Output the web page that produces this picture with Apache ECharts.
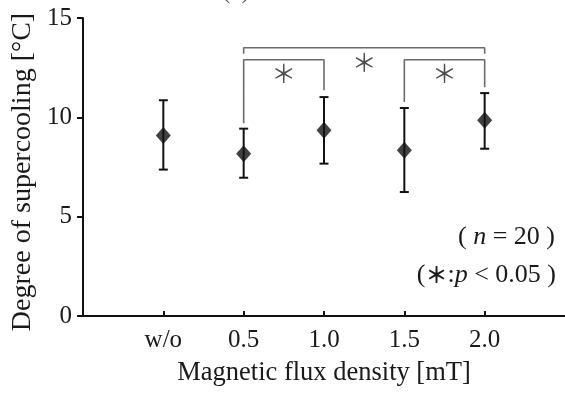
<!DOCTYPE html>
<html>
<head>
<meta charset="utf-8">
<script src="https://cdn.jsdelivr.net/npm/echarts@6/dist/echarts.min.js"></script>
<style>html,body{margin:0;padding:0;background:#fff}#c{width:565px;height:394px}</style>
</head>
<body>
<div id="c"></div>
<script>
// ---- data ----
const categories = ['w/o', '0.5', '1.0', '1.5', '2.0'];
const means = [9.09, 8.17, 9.35, 8.34, 9.85];
const upper = [10.86, 9.43, 11.02, 10.47, 11.22];
const lower = [7.37, 6.96, 7.67, 6.24, 8.42];
const yTicks = [0, 5, 10, 15];
// significance brackets: [category index (1-based), y]
const bracketAll = [[2, 13.2], [2, 13.5], [5, 13.5], [5, 13.2]];
const bracketLeft = [[2, 9.7], [2, 12.9], [3, 12.9], [3, 11.36]];
const bracketRight = [[4, 10.77], [4, 12.9], [5, 12.9], [5, 11.52]];
const starPositions = [[2.5, 12.2], [3.5, 12.77], [4.5, 12.2]];
const annotN = '( {i|n} = 20 )';
const annotP = '({s|＊}:{i|p} < 0.05 )';
const xName = 'Magnetic flux density [mT]';
const yName = 'Degree of supercooling [°C]';

const serif = '"Liberation Serif", "Times New Roman", serif';
const txt = '#1a1a1a';
const xs = categories.map((c, i) => i + 1);
const meanData = means.map((m, i) => [xs[i], m]);
const errData = xs.map((x, i) => [x, lower[i], upper[i]]);

const chart = echarts.init(document.getElementById('c'), null, {renderer: 'canvas'});
const bracketStyle = {color: '#6b6b6b', width: 1.6};
const richStyles = {
  i: {fontStyle: 'italic', fontFamily: serif, fontSize: 26, color: txt},
  s: {fontFamily: '"Noto Sans CJK JP", sans-serif', fontSize: 22, color: txt, fontWeight: 'bold'}
};
chart.setOption({
  animation: false,
  backgroundColor: '#fff',
  grid: {left: 83, right: 0, top: 18, bottom: 78, containLabel: false},
  xAxis: {
    type: 'value', min: 0, max: 6, interval: 1,
    name: xName, nameLocation: 'middle', nameGap: 44,
    nameTextStyle: {fontFamily: serif, fontSize: 26.5, color: txt},
    axisLine: {show: true, onZero: false, lineStyle: {color: '#111', width: 2}},
    axisTick: {show: true, inside: true, length: 5, customValues: xs, lineStyle: {color: '#111', width: 2}},
    axisLabel: {show: true, customValues: xs, margin: 12, fontFamily: serif, fontSize: 25, color: txt,
      formatter: v => categories[Math.round(v) - 1] || ''},
    splitLine: {show: false}
  },
  yAxis: {
    type: 'value', min: 0, max: 15, interval: 5,
    axisLine: {show: true, lineStyle: {color: '#111', width: 2}},
    axisTick: {show: true, inside: false, length: 6, customValues: yTicks, lineStyle: {color: '#111', width: 2}},
    axisLabel: {show: true, customValues: yTicks, margin: 11, fontFamily: serif, fontSize: 25, color: txt},
    splitLine: {show: false}
  },
  series: [
    {type: 'line', data: bracketAll, symbol: 'none', lineStyle: bracketStyle, silent: true, z: 1},
    {type: 'line', data: bracketLeft, symbol: 'none', lineStyle: bracketStyle, silent: true, z: 1},
    {type: 'line', data: bracketRight, symbol: 'none', lineStyle: bracketStyle, silent: true, z: 1},
    {
      type: 'custom', data: errData, z: 3,
      renderItem: function (params, api) {
        const x = api.value(0);
        const pLo = api.coord([x, api.value(1)]);
        const pHi = api.coord([x, api.value(2)]);
        const w = 4.5;
        const st = {stroke: '#111', lineWidth: 2};
        return {type: 'group', children: [
          {type: 'line', shape: {x1: pHi[0], y1: pHi[1], x2: pLo[0], y2: pLo[1]}, style: st},
          {type: 'line', shape: {x1: pHi[0] - w, y1: pHi[1], x2: pHi[0] + w, y2: pHi[1]}, style: st},
          {type: 'line', shape: {x1: pLo[0] - w, y1: pLo[1], x2: pLo[0] + w, y2: pLo[1]}, style: st}
        ]};
      }
    },
    {type: 'scatter', data: meanData, symbol: 'diamond', symbolSize: [15, 17],
      itemStyle: {color: '#111'}, z: 4},
    {type: 'scatter', data: starPositions, symbolSize: 1, itemStyle: {color: 'rgba(0,0,0,0)'}, z: 5,
      label: {show: true, position: 'inside', formatter: '＊', fontFamily: '"Noto Sans CJK JP", sans-serif',
        fontSize: 25, color: '#222'}}
  ],
  graphic: [
    {type: 'text', left: 222, top: -21, style: {text: '(a)', font: '25px ' + serif, fill: '#555'}},
    {type: 'text', x: 23, y: 172, rotation: Math.PI / 2,
      style: {text: yName, font: '28px ' + serif, fill: txt, align: 'center', verticalAlign: 'middle'}},
    {type: 'text', right: 10, top: 224, style: {text: annotN, font: '26px ' + serif, fill: txt, rich: richStyles}},
    {type: 'text', right: 9, top: 262, style: {text: annotP, font: '26px ' + serif, fill: txt, rich: richStyles}}
  ]
});
</script>
</body>
</html>
